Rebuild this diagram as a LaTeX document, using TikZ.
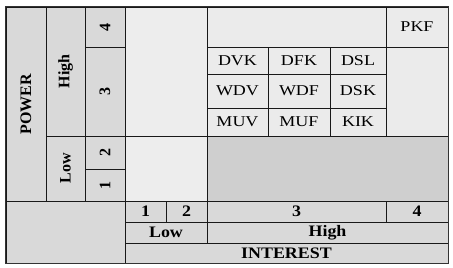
\documentclass[tikz,border=0pt]{standalone}
\usepackage{fontspec}
\setmainfont{Liberation Serif}
\newfontfamily\widebf[FakeStretch=1.12]{Liberation Serif}
\newfontfamily\widerm[FakeStretch=1.2]{Liberation Serif}
\definecolor{hdr}{HTML}{D9D9D9}
\definecolor{cellgray}{HTML}{EBEBEB}
\definecolor{lowzone}{HTML}{EDEDED}
\definecolor{darkzone}{HTML}{CFCFCF}
\begin{document}
\begin{tikzpicture}[x=1pt, y=-1pt,
    box/.style={draw=black!90, line width=0.9pt, fill=hdr, inner sep=0pt},
    head/.style={box, font=\widebf\fontsize{16}{16}\selectfont\bfseries},
    side/.style={box, rotate=90, font=\rmfamily\fontsize{16}{16}\selectfont\bfseries},
    cell/.style={box, fill=cellgray, font=\widerm\fontsize{15}{15}\selectfont}]
\useasboundingbox (0,0) rectangle (453,268);

\node[side, minimum width=194, minimum height=40](P) at (26,104) {POWER};
\node[side, minimum width=129, minimum height=39](PH) at (65.5,71.5) {High};
\node[side, minimum width=65, minimum height=39](PL) at (65.5,168.5) {Low};
\node[side, minimum width=40, minimum height=40](P4) at (105,27) {4};
\node[side, minimum width=89, minimum height=40](P3) at (105,91.5) {3};
\node[side, minimum width=33, minimum height=40](P2) at (105,152.5) {2};
\node[side, minimum width=32, minimum height=40](P1) at (105,185) {1};

\node[box, fill=lowzone, minimum width=82, minimum height=129](LH) at (166,71.5) {};
\node[box, fill=lowzone, minimum width=82, minimum height=65](LL) at (166,168.5) {};
\node[box, fill=darkzone, minimum width=241, minimum height=65](HL) at (327.5,168.5) {};

\node[cell, minimum width=179, minimum height=40](T) at (296.5,27) {};
\node[cell, minimum width=62, minimum height=40](PKF) at (417,27) {PKF};
\node[cell, minimum width=62, minimum height=89](R) at (417,91.5) {};

\node[cell, minimum width=61, minimum height=27](DVK) at (237.5,60.5) {DVK};
\node[cell, minimum width=62, minimum height=27](DFK) at (299,60.5) {DFK};
\node[cell, minimum width=56, minimum height=27](DSL) at (358,60.5) {DSL};
\node[cell, minimum width=61, minimum height=34](WDV) at (237.5,91) {WDV};
\node[cell, minimum width=62, minimum height=34](WDF) at (299,91) {WDF};
\node[cell, minimum width=56, minimum height=34](DSK) at (358,91) {DSK};
\node[cell, minimum width=61, minimum height=28](MUV) at (237.5,122) {MUV};
\node[cell, minimum width=62, minimum height=28](MUF) at (299,122) {MUF};
\node[cell, minimum width=56, minimum height=28](KIK) at (358,122) {KIK};

\node[box, minimum width=119, minimum height=62](C) at (65.5,232) {};
\node[head, minimum width=41, minimum height=21](I1) at (145.5,211.5) {1};
\node[head, minimum width=41, minimum height=21](I2) at (186.5,211.5) {2};
\node[head, minimum width=179, minimum height=21](I3) at (296.5,211.5) {3};
\node[head, minimum width=62, minimum height=21](I4) at (417,211.5) {4};
\node[head, minimum width=82, minimum height=21](IL) at (166,232.5) {Low};
\node[head, minimum width=241, minimum height=21](IH) at (327.5,232.5) {High};
\node[head, minimum width=323, minimum height=20](I) at (286.5,253) {INTEREST};

\draw[line width=1.3pt, black!80](C.south west) rectangle (PKF.north east);

\end{tikzpicture}
\end{document}
